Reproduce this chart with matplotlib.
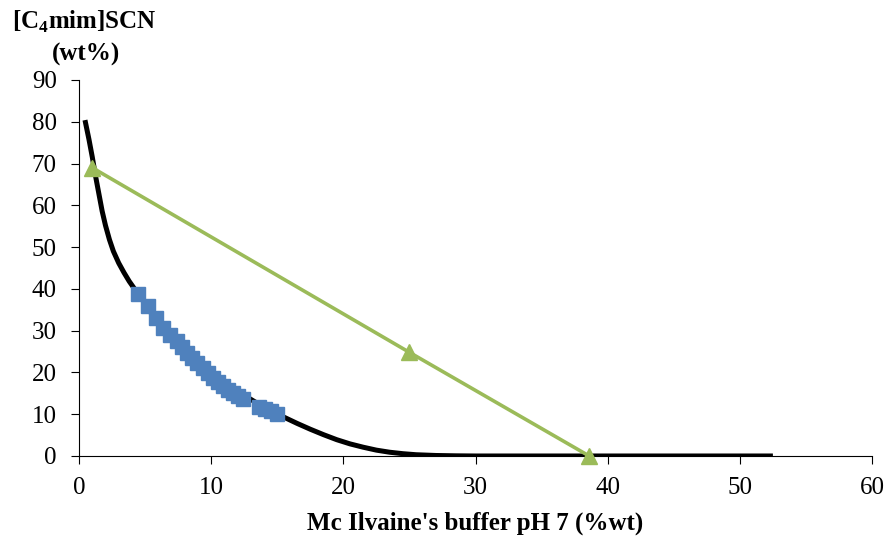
import matplotlib
matplotlib.use("Agg")
import matplotlib.pyplot as plt

plt.rcParams['font.family'] = ['Liberation Serif', 'DejaVu Serif']
plt.rcParams['mathtext.fontset'] = 'custom'
plt.rcParams['mathtext.rm'] = 'Liberation Serif'
plt.rcParams['mathtext.bf'] = 'Liberation Serif:bold'

# binodal fit curve
curve_x = [0.45, 0.75, 1.0, 1.25, 1.5, 1.75, 2.0, 2.3, 2.6, 3.0, 3.4, 3.8, 4.2,
           4.5, 5.5, 6.5, 7.5, 8.5, 9.5, 10.5, 11.5, 12.5, 13.5, 14.5, 15.5,
           16.5, 17.5, 18.5, 19.5, 20.5, 21.5, 22.5, 23.5, 24.5, 25.5, 27.0,
           28.5, 30.0, 35.0, 40.0, 45.0, 52.5]
curve_y = [80.4, 75.8, 71.6, 67.0, 62.8, 58.6, 55.2, 51.8, 49.0, 46.2, 43.9, 41.8,
           40.0, 38.8, 34.0, 30.0, 27.0, 24.0, 21.4, 19.0, 16.6, 14.5, 12.6,
           10.9, 9.3, 7.8, 6.4, 5.1, 3.9, 2.9, 2.1, 1.4, 0.9, 0.55, 0.3, 0.12,
           0.04, 0.0, 0.0, 0.0, 0.0, 0.0]

# experimental points
exp_x = [4.46, 5.2, 5.8, 6.35, 6.9, 7.4, 7.8, 8.2, 8.55, 8.9, 9.4, 9.75, 10.1,
         10.5, 10.9, 11.3, 11.65, 12.0, 12.4, 13.6, 14.1, 14.5, 15.0]
exp_y = [38.8, 35.9, 33.0, 30.6, 29.0, 27.5, 26.0, 24.6, 23.4, 22.2, 21.0, 19.9,
         18.7, 17.7, 16.7, 15.8, 15.1, 14.4, 13.6, 11.7, 11.2, 10.8, 10.0]

# tie line
tie_x = [1.0, 25.0, 38.6]
tie_y = [69.0, 24.8, 0.0]

fig = plt.figure(figsize=(8.91, 5.42), dpi=100)
ax = fig.add_axes([0.0887, 0.1587, 0.89, 0.6937])

ax.plot(curve_x, curve_y, color='black', lw=3.6, zorder=2, solid_capstyle='butt')
ax.plot(exp_x, exp_y, linestyle='none', marker='s', markersize=10.5,
        color='#4F81BD', zorder=3)
ax.plot(tie_x, tie_y, color='#9BBB59', lw=2.6, marker='^', markersize=12,
        zorder=4, clip_on=False)

ax.set_xlim(0, 60)
ax.set_ylim(0, 90)
ax.set_xticks(range(0, 61, 10))
ax.set_yticks(range(0, 91, 10))
ax.spines['top'].set_visible(False)
ax.spines['right'].set_visible(False)
ax.tick_params(direction='out', length=6, labelsize=18)
ax.tick_params(axis='x', pad=9)
ax.tick_params(axis='y', pad=10)

ax.set_xlabel("Mc Ilvaine's buffer pH 7 (%wt)", fontsize=18, fontweight='bold',
              labelpad=9)
fig.text(0.095, 0.959, r"[C$_\mathbf{4}$mim]SCN", fontsize=18, fontweight='bold',
         ha='center', va='center')
fig.text(0.097, 0.899, "(wt%)", fontsize=18, fontweight='bold',
         ha='center', va='center')

fig.savefig("out.png", dpi=100)
